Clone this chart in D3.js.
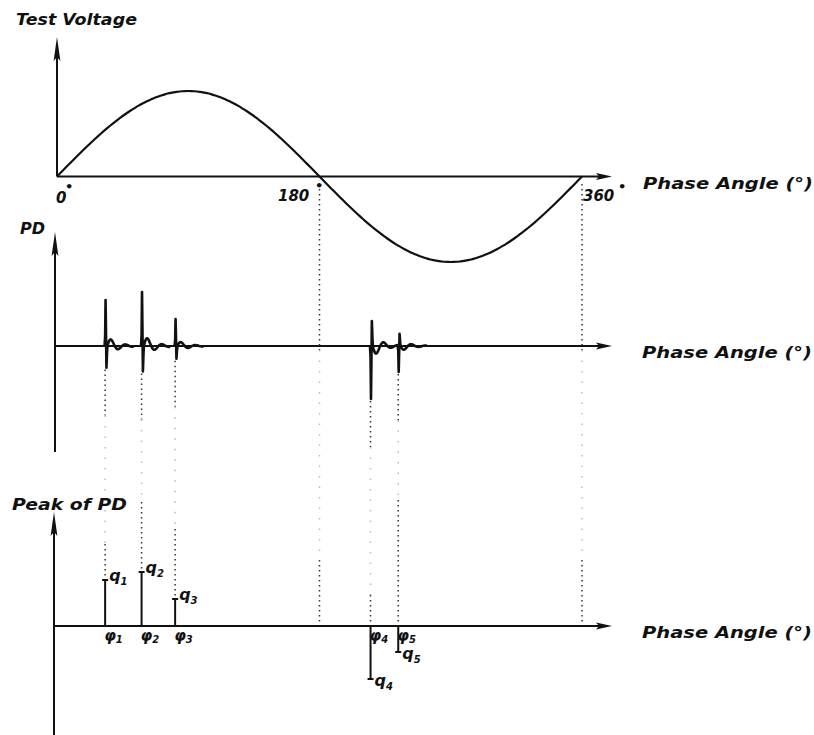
<!DOCTYPE html>
<html>
<head>
<meta charset="utf-8">
<script src="https://cdn.jsdelivr.net/npm/d3@7/dist/d3.min.js"></script>
<style>
  html, body { margin: 0; padding: 0; background: #ffffff; }
  svg { display: block; }
  text { font-family: "DejaVu Sans", sans-serif; font-weight: bold; font-style: italic; fill: #111; }
</style>
</head>
<body>
<svg id="chart" width="814" height="735"></svg>
<script>
// Phase axis (degrees) and its tick labels
const phaseDomain = [0, 360];
const phaseTicks = [0, 180, 360];
const phaseTickLabels = ["0", "180", "360"];

// Partial discharge pulses: phase of occurrence (deg) and peak (arbitrary pC units)
const pdPhase = [33, 58, 81, 215, 234];
const pdPeak = [46, 54, 27, -53, -26];
const pdLabels = ["1", "2", "3", "4", "5"];

// Panel titles
const panelTitles = ["Test Voltage", "PD", "Peak of PD"];
const axisTitle = "Phase Angle (°)";

const svg = d3.select("#chart");
const ink = "#111";

const x = d3.scaleLinear().domain(phaseDomain).range([57, 582]);
const xArrowEnd = 612;

// vertical scales for each panel
const yV = d3.scaleLinear().domain([-1, 1]).range([262, 91]);
const yPD = d3.scaleLinear().domain([-60, 60]).range([406, 286]);
const yQ = d3.scaleLinear().domain([-60, 60]).range([686, 566]);

// narrow arrow heads
function arrowRight(g, xTip, y) {
  g.append("path")
    .attr("d", `M${xTip},${y} L${xTip - 16},${y - 3.4} L${xTip - 13},${y} L${xTip - 16},${y + 3.4} Z`)
    .attr("fill", ink);
}
function arrowUp(g, xc, yTip) {
  g.append("path")
    .attr("d", `M${xc},${yTip} L${xc - 3.4},${yTip + 24} L${xc},${yTip + 20} L${xc + 3.4},${yTip + 24} Z`)
    .attr("fill", ink);
}

// dotted projection lines: dark near the axes, faded across the gaps
function dotted(xp, y0, y1, faint) {
  svg.append("line")
    .attr("x1", xp).attr("x2", xp).attr("y1", y0).attr("y2", y1)
    .attr("stroke", faint ? "#bbb" : "#333")
    .attr("stroke-width", 1.5)
    .attr("stroke-dasharray", faint ? "1.5,9" : "1.5,3.5");
}

[180, 360].forEach(p => {
  const xp = x(p);
  dotted(xp, 184, 350, false);
  dotted(xp, 350, 560, true);
  dotted(xp, 560, yQ(0), false);
});

// projections from each PD pulse down to its peak stem
pdPhase.forEach((p, i) => {
  const xp = x(p);
  const q = pdPeak[i];
  const troughY = q > 0 ? yPD(-0.47 * q) : yPD(q);
  const stemEnd = yQ(q);
  const topStart = q > 0 ? stemEnd - [36, 70, 70][i] : [595, 500][i - 3];
  dotted(xp, troughY + 2, troughY + 48, false);
  dotted(xp, troughY + 48, topStart, true);
  dotted(xp, topStart, q > 0 ? stemEnd : yQ(0), false);
});

// ---------- Panel 1: test voltage ----------
const g1 = svg.append("g");
g1.append("line").attr("x1", x(0)).attr("x2", x(0)).attr("y1", yV(0)).attr("y2", 50)
  .attr("stroke", ink).attr("stroke-width", 2);
arrowUp(g1, x(0), 37);
g1.append("line").attr("x1", x(0)).attr("x2", xArrowEnd - 10).attr("y1", yV(0)).attr("y2", yV(0))
  .attr("stroke", ink).attr("stroke-width", 2);
arrowRight(g1, xArrowEnd, yV(0));

const sineLine = d3.line()
  .x(d => x(d))
  .y(d => yV(Math.sin(d * Math.PI / 180)))
  .curve(d3.curveBasis);
g1.append("path")
  .datum(d3.range(0, 361, 2))
  .attr("d", sineLine)
  .attr("fill", "none").attr("stroke", ink).attr("stroke-width", 2.2);

g1.append("text").attr("x", 16).attr("y", 25).attr("font-size", 15)
  .attr("textLength", 121).attr("lengthAdjust", "spacingAndGlyphs").text(panelTitles[0]);

// phase tick labels with a raised degree dot
const tickPos = [
  { x: 56, y: 203 }, { x: 278, y: 201 }, { x: 583, y: 201 }
];
const degPos = [
  { x: 65, y: 191 }, { x: 315, y: 190 }, { x: 618, y: 191 }
];
phaseTicks.forEach((t, i) => {
  g1.append("text").attr("x", tickPos[i].x).attr("y", tickPos[i].y).attr("font-size", 15)
    .text(phaseTickLabels[i]);
  g1.append("text").attr("x", degPos[i].x).attr("y", degPos[i].y).attr("font-size", 13)
    .attr("font-style", "normal").text("•");
});

g1.append("text").attr("x", 643).attr("y", 189).attr("font-size", 15)
  .attr("textLength", 170).attr("lengthAdjust", "spacingAndGlyphs").text(axisTitle);

// ---------- Panel 2: PD signal ----------
const g2 = svg.append("g");
g2.append("line").attr("x1", 55).attr("x2", 55).attr("y1", 452).attr("y2", 245)
  .attr("stroke", ink).attr("stroke-width", 2);
arrowUp(g2, 55, 232);
g2.append("line").attr("x1", 55).attr("x2", xArrowEnd - 10).attr("y1", yPD(0)).attr("y2", yPD(0))
  .attr("stroke", ink).attr("stroke-width", 2);
arrowRight(g2, xArrowEnd, yPD(0));

// each pulse: sharp spike, opposite lobe, then a decaying ringing tail
function pulseTrace(p, q) {
  const pts = [[p - 0.4, 0], [p, 0.2 * q], [p + 0.3, q], [p + 0.6, 0.3 * q],
               [p + 0.9, -0.47 * q], [p + 1.3, -0.15 * q], [p + 1.6, 0]];
  for (let t = 1.6; t <= 20; t += 0.5) {
    const tt = t - 1.6;
    pts.push([p + t, q * 0.2 * Math.exp(-tt / 7) * Math.sin(2 * Math.PI * tt / 10)]);
  }
  return pts;
}
pdPhase.forEach((p, i) => {
  g2.append("path")
    .datum(pulseTrace(p, pdPeak[i]))
    .attr("d", d3.line().x(d => x(d[0])).y(d => yPD(d[1])))
    .attr("fill", "none").attr("stroke", ink).attr("stroke-width", 2.6)
    .attr("stroke-linejoin", "round");
});

g2.append("text").attr("x", 20).attr("y", 234).attr("font-size", 16).text(panelTitles[1]);
g2.append("text").attr("x", 642).attr("y", 358).attr("font-size", 15)
  .attr("textLength", 170).attr("lengthAdjust", "spacingAndGlyphs").text(axisTitle);

// ---------- Panel 3: peak of PD ----------
const g3 = svg.append("g");
g3.append("line").attr("x1", 54).attr("x2", 54).attr("y1", 735).attr("y2", 525)
  .attr("stroke", ink).attr("stroke-width", 2);
arrowUp(g3, 54, 512);
g3.append("line").attr("x1", 54).attr("x2", xArrowEnd - 10).attr("y1", yQ(0)).attr("y2", yQ(0))
  .attr("stroke", ink).attr("stroke-width", 2);
arrowRight(g3, xArrowEnd, yQ(0));

pdPhase.forEach((p, i) => {
  const xp = x(p), q = pdPeak[i];
  g3.append("line").attr("x1", xp).attr("x2", xp).attr("y1", yQ(0)).attr("y2", yQ(q))
    .attr("stroke", ink).attr("stroke-width", 2);
  g3.append("line").attr("x1", xp - 3).attr("x2", xp + 3).attr("y1", yQ(q)).attr("y2", yQ(q))
    .attr("stroke", ink).attr("stroke-width", 2);

  // q label at the stem end, phi label under the axis
  const qy = q > 0 ? yQ(q) + 1 : yQ(q) + 7;
  const qt = g3.append("text").attr("x", xp + 4).attr("y", qy).attr("font-size", 16);
  qt.append("tspan").text("q");
  qt.append("tspan").attr("font-size", 10).attr("dy", 4).text(pdLabels[i]);

  const ft = g3.append("text").attr("x", xp - 1).attr("y", yQ(0) + 15).attr("font-size", 15);
  ft.append("tspan").text("φ");
  ft.append("tspan").attr("font-size", 10).attr("dy", 2).text(pdLabels[i]);
});

g3.append("text").attr("x", 12).attr("y", 510).attr("font-size", 15)
  .attr("textLength", 115).attr("lengthAdjust", "spacingAndGlyphs").text(panelTitles[2]);
g3.append("text").attr("x", 642).attr("y", 638).attr("font-size", 15)
  .attr("textLength", 170).attr("lengthAdjust", "spacingAndGlyphs").text(axisTitle);
</script>
</body>
</html>
